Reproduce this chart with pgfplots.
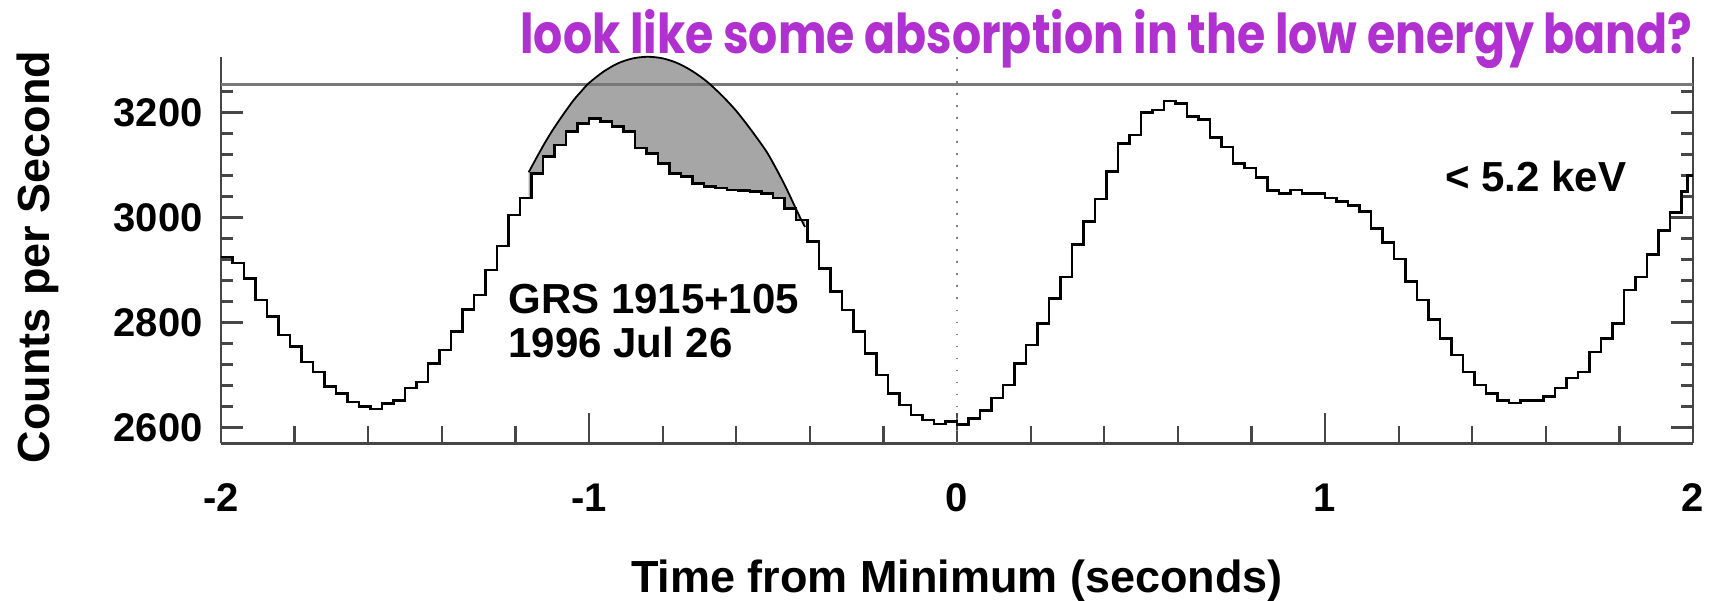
\documentclass[border=0pt]{standalone}
\usepackage{pgfplots}
\pgfplotsset{compat=1.18}
\usepackage{pgfplotstable}
\usepgfplotslibrary{fillbetween}
\usepackage{fontspec}
\setmainfont{Liberation Sans}
\newfontfamily\titlefont{Poppins}
\definecolor{axgray}{RGB}{70,70,70}
\definecolor{hlgray}{RGB}{120,120,120}
\definecolor{fillgray}{RGB}{166,166,166}
\definecolor{purp}{RGB}{176,48,208}

\pgfplotstableread{
k v
0 2925
1 2913
2 2884
3 2843
4 2812
5 2776
6 2754
7 2725
8 2706
9 2678
10 2665
11 2649
12 2640
13 2635
14 2646
15 2652
16 2675
17 2687
18 2722
19 2748
20 2783
21 2825
22 2852
23 2900
24 2946
25 3005
26 3037
27 3084
28 3116
29 3138
30 3164
31 3179
32 3189
33 3183
34 3173
35 3164
36 3132
37 3122
38 3103
39 3084
40 3078
41 3065
42 3059
43 3056
44 3052
45 3051
46 3049
47 3046
48 3037
49 3017
50 2995
51 2954
52 2903
53 2859
54 2824
55 2783
56 2741
57 2700
58 2665
59 2643
60 2624
61 2614
62 2607
63 2611
64 2606
65 2617
66 2633
67 2656
68 2681
69 2722
70 2757
71 2798
72 2846
73 2887
74 2948
75 2992
76 3035
77 3087
78 3141
79 3157
80 3200
81 3205
82 3222
83 3217
84 3192
85 3186
86 3152
87 3134
88 3103
89 3094
90 3076
91 3051
92 3046
93 3052
94 3046
95 3046
96 3037
97 3030
98 3023
99 3011
100 2979
101 2952
102 2921
103 2878
104 2843
105 2806
106 2770
107 2738
108 2706
109 2681
110 2665
111 2652
112 2647
113 2652
114 2652
115 2659
116 2675
117 2694
118 2706
119 2744
120 2770
121 2798
122 2862
123 2887
124 2929
125 2975
126 3010
127 3050
127.5 3080
128 3080
}\hist

\begin{document}
\begin{tikzpicture}
\pgfplotsset{
 base/.style={
  width=736pt, height=193pt, scale only axis,
  xmin=-2, xmax=2, ymin=2570, ymax=3305,
  axis x line*=bottom, axis y line*=box,
  tick align=inside,
  axis line style={axgray, line width=1.3pt},
  every tick/.style={axgray, line width=1.1pt},
  tick label style={font=\fontsize{20}{20}\selectfont\bfseries},
 }
}
% y ticks axis
\begin{axis}[base,
  xtick=\empty,
  ytick={2600,2800,3000,3200},
  yticklabels={2600,2800,3000,3200},
  minor ytick={2640,2680,2720,2760,2840,2880,2920,2960,3040,3080,3120,3160,3240},
  major tick length=11pt, minor tick length=6pt,
  yticklabel style={anchor=east, inner sep=0pt, xshift=-9pt},
]
\end{axis}
% x ticks axis with data
\begin{axis}[base, clip=false,
  ytick=\empty,
  xtick={-2,-1,0,1,2},
  xticklabels={-2,-1,0,1,2},
  minor xtick={-1.8,-1.6,-1.4,-1.2,-0.8,-0.6,-0.4,-0.2,0.2,0.4,0.6,0.8,1.2,1.4,1.6,1.8},
  major tick length=15pt, minor tick length=8.5pt,
  xticklabel style={anchor=north, inner sep=0pt, yshift=-20pt},
]
\addplot[hlgray, line width=1.2pt] coordinates {(-2,3253) (2,3253)};
\addplot[gray, line width=1pt, dash pattern=on 0.9pt off 5.1pt] coordinates {(0,2570) (0,3305)};
\addplot[const plot, black, line width=1.3pt, name path=hist] table[x expr=\thisrow{k}/32-2, y=v] {\hist};
\addplot[draw=none, name path=para] coordinates {
(-1.164,3086) (-1.14,3117) (-1.12,3142) (-1.10,3165) (-1.08,3186) (-1.06,3206)
(-1.04,3225) (-1.02,3241) (-1.00,3256) (-0.96,3278) (-0.92,3294) (-0.88,3303)
(-0.84,3306) (-0.80,3303) (-0.76,3294) (-0.72,3279) (-0.68,3259) (-0.64,3233)
(-0.60,3203) (-0.56,3167) (-0.52,3128) (-0.50,3104) (-0.48,3078) (-0.46,3050)
(-0.44,3020) (-0.425,2998) (-0.413,2982)};
\addplot[fillgray] fill between[of=para and hist, soft clip={domain=-1.164:-0.413}];
\addplot[black, line width=0.9pt, smooth] coordinates {
(-1.164,3086) (-1.14,3117) (-1.12,3142) (-1.10,3165) (-1.08,3186) (-1.06,3206)
(-1.04,3225) (-1.02,3241) (-1.00,3256) (-0.96,3278) (-0.92,3294) (-0.88,3303)
(-0.84,3306) (-0.80,3303) (-0.76,3294) (-0.72,3279) (-0.68,3259) (-0.64,3233)
(-0.60,3203) (-0.56,3167) (-0.52,3128) (-0.50,3104) (-0.48,3078) (-0.46,3050)
(-0.44,3020) (-0.425,2998) (-0.413,2982)};
\end{axis}

\node[anchor=base west, inner sep=0pt, font=\fontsize{21}{21}\selectfont\bfseries] at (143.5pt,65.15pt) {GRS 1915+105};
\node[anchor=base west, inner sep=0pt, font=\fontsize{21}{21}\selectfont\bfseries] at (143.5pt,43.15pt) {1996 Jul 26};
\node[anchor=base west, inner sep=0pt, font=\fontsize{21}{21}\selectfont\bfseries] at (612pt,125.65pt) {< 5.2 keV};
\node[rotate=90, anchor=base, inner sep=0pt, font=\fontsize{22.5}{22.5}\selectfont\bfseries] at (-85.5pt,93.15pt) {Counts per Second};
\node[anchor=base, inner sep=0pt, font=\fontsize{22.5}{22.5}\selectfont\bfseries] at (368pt,-74.35pt) {Time from Minimum (seconds)};
\node[anchor=base west, inner sep=0pt, text=purp] at (149.5pt,195pt) {\scalebox{1}[1.2]{\resizebox{586pt}{!}{\titlefont\bfseries\fontsize{24}{24}\selectfont look like some absorption in the low energy band?}}};

\pgfresetboundingbox
\path (-110.5pt,-78.35pt) rectangle (746.5pt,221.65pt);
\end{tikzpicture}
\end{document}
